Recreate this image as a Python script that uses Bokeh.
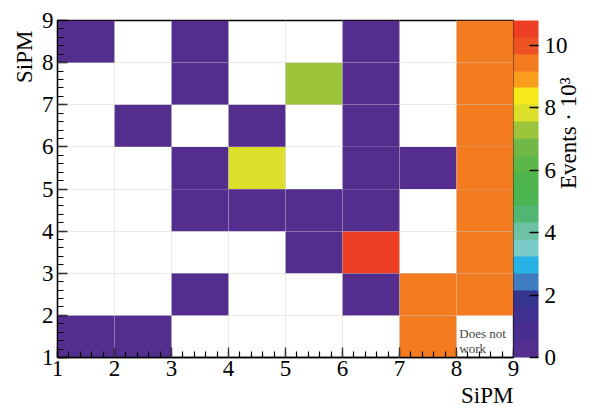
import math
from bokeh.plotting import figure
from bokeh.models import (LinearColorMapper, ColorBar, SingleIntervalTicker, Label, Title,
                          ColumnDataSource, Range1d, LinearAxis, FixedTicker)
from bokeh.transform import transform
from bokeh.embed import file_html
from bokeh.resources import INLINE

# bin edges
x_edges = [1, 2, 3, 4, 5, 6, 7, 8, 9]
y_edges = [1, 2, 3, 4, 5, 6, 7, 8, 9]

# Events (x 10^3); rows from y=1 (bottom) to y=8 (top), columns x=1..8; 0 = empty bin
events = [
    [0.2, 0.2, 0.0, 0.0, 0.0, 0.0, 9.4, 0.0],
    [0.0, 0.0, 0.2, 0.0, 0.0, 0.2, 9.4, 9.4],
    [0.0, 0.0, 0.0, 0.0, 0.2, 10.5, 0.0, 9.4],
    [0.0, 0.0, 0.2, 0.2, 0.2, 0.2, 0.0, 9.4],
    [0.0, 0.0, 0.2, 7.8, 0.0, 0.2, 0.2, 9.4],
    [0.0, 0.2, 0.0, 0.2, 0.0, 0.2, 0.0, 9.4],
    [0.0, 0.0, 0.2, 0.0, 7.3, 0.2, 0.0, 9.4],
    [0.2, 0.0, 0.2, 0.0, 0.0, 0.2, 0.0, 9.4],
]

palette = ["#532e8f", "#4a2e8f", "#402f8f", "#35348f", "#3e7bbf", "#27b2e6", "#79cbc8",
           "#6cc2a2", "#52b673", "#4bb350", "#4eb44e", "#5db648", "#70b946", "#9cc53c",
           "#dde02a", "#f6ea1c", "#f99d1c", "#f47b20", "#ef5325", "#ee3f24"]
z_max = 10.8

FONT = "Liberation Serif"
FS = "23px"

left, right, bottom, top, val = [], [], [], [], []
for j, row in enumerate(events):
    for i, v in enumerate(row):
        if v > 0:
            left.append(x_edges[i]); right.append(x_edges[i + 1])
            bottom.append(y_edges[j]); top.append(y_edges[j + 1])
            val.append(v)
src = ColumnDataSource(dict(left=left, right=right, bottom=bottom, top=top, val=val))

mapper = LinearColorMapper(palette=palette, low=0, high=z_max)

p = figure(width=600, height=412, x_range=Range1d(1, 9), y_range=Range1d(1, 9),
           output_backend="svg", toolbar_location=None,
           min_border_left=57, min_border_right=87, min_border_top=20, min_border_bottom=55)

p.quad(left="left", right="right", bottom="bottom", top="top", source=src,
       fill_color=transform("val", mapper), line_color=None)

for ax in (p.xaxis, p.yaxis):
    ax.ticker = SingleIntervalTicker(interval=1, num_minor_ticks=5)
    ax.major_tick_in = 10
    ax.major_tick_out = 0
    ax.minor_tick_in = 6
    ax.minor_tick_out = 0
    ax.major_tick_line_width = 1.3
    ax.minor_tick_line_width = 1.2
    ax.axis_line_width = 1.3
    ax.major_label_text_font = FONT
    ax.major_label_text_font_size = FS
    ax.major_label_text_color = "black"
p.xaxis.major_label_standoff = 3
p.yaxis.major_label_standoff = 4

p.grid.grid_line_color = "#b8b8b8"
p.grid.grid_line_dash = "1 1"
p.grid.grid_line_alpha = 0.6
p.grid.level = "guide"
p.outline_line_color = "black"
p.outline_line_width = 1.3
p.outline_line_alpha = 1.0

# axis titles (end-aligned, as in the reference)
p.add_layout(Title(text="SiPM", align="right", offset=10, standoff=4, text_font=FONT,
                   text_font_size=FS, text_font_style="normal", text_color="black"), "left")
p.add_layout(Title(text="SiPM", align="right", offset=0, standoff=4, text_font=FONT,
                   text_font_size=FS, text_font_style="normal", text_color="black"), "below")

cb = ColorBar(color_mapper=mapper, width=25, margin=3, padding=0,
              ticker=SingleIntervalTicker(interval=2, num_minor_ticks=0),
              major_label_text_font=FONT, major_label_text_font_size=FS,
              major_label_text_color="black",
              major_tick_in=9, major_tick_out=0, major_tick_line_color="black",
              major_tick_line_width=1.5, minor_tick_line_color=None,
              label_standoff=6, bar_line_color=None, border_line_color=None,
              background_fill_color=None)
p.add_layout(cb, "right")

title_axis = LinearAxis(ticker=FixedTicker(ticks=[]), axis_line_color=None,
                        major_tick_line_color=None, minor_tick_line_color=None,
                        major_tick_out=0, minor_tick_out=0, major_label_standoff=0,
                        axis_label="Events · 10³", axis_label_text_font=FONT,
                        axis_label_text_font_size=FS, axis_label_text_font_style="normal",
                        axis_label_text_color="black", axis_label_standoff=-2,
                        axis_label_orientation=math.pi / 2)
p.add_layout(title_axis, "right")

p.add_layout(Label(x=8.05, y=1.57, text="Does not", text_align="left",
                   text_baseline="alphabetic", text_font=FONT, text_font_size="13px"))
p.add_layout(Label(x=8.05, y=1.21, text="work", text_align="left",
                   text_baseline="alphabetic", text_font=FONT, text_font_size="13px"))

open("out.html", "w").write(file_html(p, INLINE))
